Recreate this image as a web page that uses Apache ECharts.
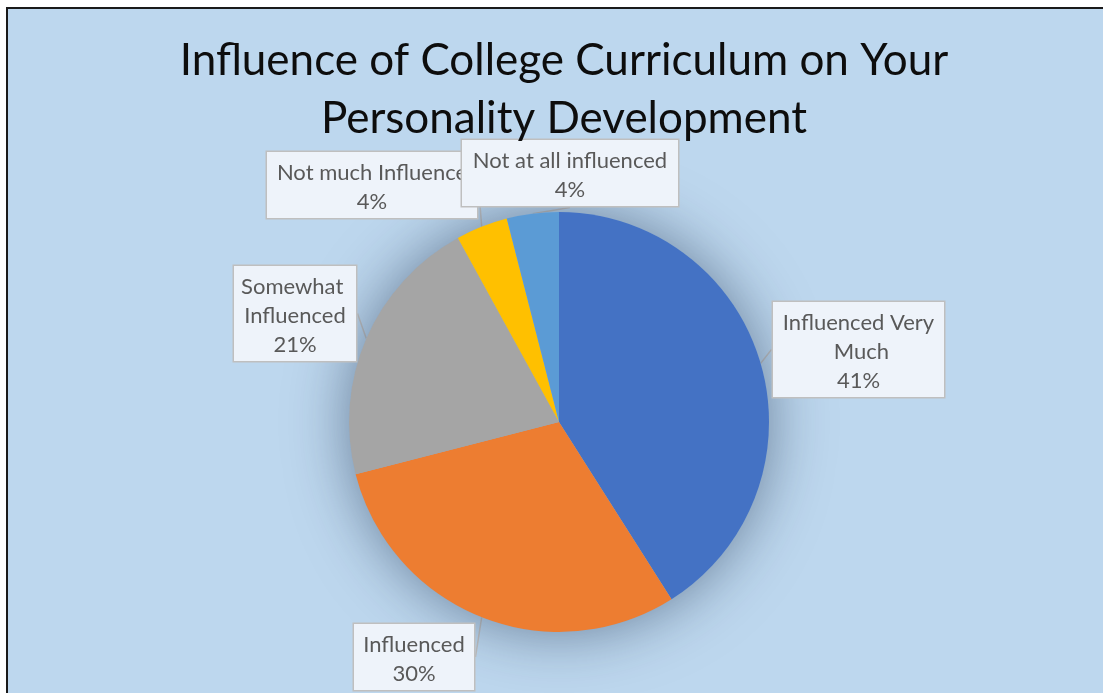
<!DOCTYPE html>
<html>
<head>
<meta charset="utf-8">
<script src="https://cdn.jsdelivr.net/npm/echarts@6/dist/echarts.min.js"></script>
<style>
  html, body { margin: 0; padding: 0; background: #fff; overflow: hidden; width: 1103px; height: 693px; }
  #frame { position: absolute; left: 6px; top: 7px; border: 2px solid #1a1a1a; background: #BDD7EE; }
  #chart { width: 1102px; height: 700px; }
</style>
</head>
<body>
<div id="frame"><div id="chart"></div></div>
<script>
// data
const categories = ['Influenced Very Much', 'Influenced', 'Somewhat Influenced', 'Not much Influence', 'Not at all influenced']
const shares = [41, 30, 21, 4, 4]
const sliceColors = ['#4472C4', '#ED7D31', '#A5A5A5', '#FFC000', '#5B9BD5']

// callout boxes: left, top, width (chart coords)
const callouts = [
  [765, 293, 171],
  [346, 615, 120],
  [226, 257, 122],
  [259, 143, 210],
  [454, 131, 216]
]

const chart = echarts.init(document.getElementById('chart'))

const center = [551, 413]
const radius = 210

const option = {
  backgroundColor: '#BDD7EE',
  animation: false,
  title: {
    text: 'Influence of College Curriculum on Your\nPersonality Development',
    left: 551,
    top: 18,
    textAlign: 'center',
    textStyle: {
      fontFamily: 'Lato',
      fontWeight: 'normal',
      fontSize: 44,
      lineHeight: 58,
      color: '#0d0d0d'
    }
  },
  series: [
    // soft shadow under the pie
    {
      type: 'pie',
      silent: true,
      center: center,
      radius: radius,
      label: { show: false },
      labelLine: { show: false },
      itemStyle: {
        color: '#8faed0',
        shadowBlur: 60,
        shadowColor: 'rgba(20, 40, 70, 0.5)'
      },
      data: [{ value: 1 }]
    },
    {
      type: 'pie',
      center: center,
      radius: radius,
      startAngle: 90,
      clockwise: true,
      data: categories.map((name, i) => ({
        name: name,
        value: shares[i],
        itemStyle: { color: sliceColors[i] },
        label: { width: callouts[i][2] - 12 }
      })),
      label: {
        show: true,
        position: 'outside',
        formatter: '{b}\n{c}%',
        fontFamily: 'Lato',
        fontSize: 22,
        lineHeight: 29,
        color: '#595959',
        align: 'center',
        overflow: 'break',
        backgroundColor: '#EEF3FA',
        borderColor: '#BFBFBF',
        borderWidth: 1.5,
        padding: [6, 6, 2, 6]
      },
      labelLine: {
        show: true,
        length: 8,
        length2: 0,
        lineStyle: { color: '#BFBFBF', width: 1.5 }
      },
      labelLayout: function (params) {
        const b = callouts[params.dataIndex]
        return {
          x: b[0] + b[2] / 2,
          y: b[1],
          align: 'center',
          verticalAlign: 'top'
        }
      }
    }
  ]
}

chart.setOption(option)
</script>
</body>
</html>
